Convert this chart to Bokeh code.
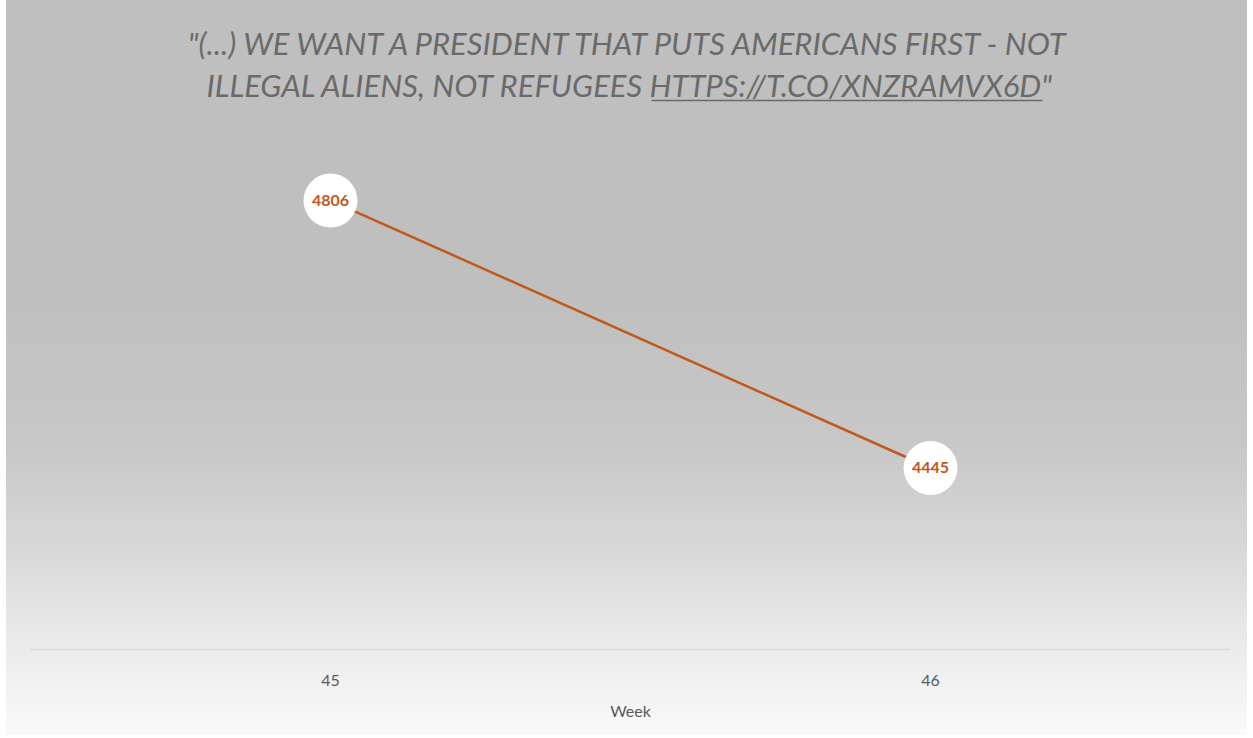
from bokeh.plotting import figure
from bokeh.models import Range1d, FixedTicker, Label
from bokeh.embed import file_html
from bokeh.resources import INLINE
from bokeh.core.properties import value

# ---- data ----
weeks = [45, 46]
counts = [4806, 4445]
tick_labels = ["45", "46"]
x_label = "Week"
title_line1 = '"(...) WE WANT A PRESIDENT THAT PUTS AMERICANS FIRST - NOT'
title_line2 = 'ILLEGAL ALIENS, NOT REFUGEES HTTPS://T.CO/XNZRAMVX6D"'

ACCENT = "#C0591C"
W, H = 1241, 735
LEFT, RIGHT, BOTTOM = 24, 17, 86
X0, X1 = 44.5, 46.5
Y0, Y1 = 4200, 5076

p = figure(width=W, height=H, output_backend="svg", toolbar_location=None,
           x_range=Range1d(X0, X1), y_range=Range1d(Y0, Y1),
           min_border_left=LEFT, min_border_right=RIGHT,
           min_border_top=0, min_border_bottom=BOTTOM,
           y_axis_location=None, tools="")
p.styles = {"margin-left": "6px",
            "background": ("linear-gradient(to bottom, #bfbfbf 0%, #bfbfbf 40%, "
                           "#c8c8c8 61%, #d8d8d8 75%, #e6e6e6 84%, #fafafa 100%)")}
p.background_fill_alpha = 0
p.border_fill_alpha = 0
p.outline_line_color = None
p.xgrid.visible = False
p.ygrid.visible = False

ax = p.xaxis[0]
ax.ticker = FixedTicker(ticks=weeks)
ax.major_label_overrides = {w: t for w, t in zip(weeks, tick_labels)}
ax.major_tick_line_color = None
ax.minor_tick_line_color = None
ax.axis_line_color = "#d9d9d9"
ax.axis_line_width = 1.5
ax.major_label_text_font = "Lato"
ax.major_label_text_font_size = "16px"
ax.major_label_text_color = "#595959"
ax.major_label_standoff = 19
ax.axis_label = x_label
ax.axis_label_text_font = "Lato"
ax.axis_label_text_font_style = "normal"
ax.axis_label_text_font_size = "16px"
ax.axis_label_text_color = "#595959"
ax.axis_label_standoff = 12

p.line(weeks, counts, line_color=ACCENT, line_width=2.5)
p.scatter(weeks, counts, size=54, fill_color="white", line_color=None)
p.text(weeks, counts, text=[str(c) for c in counts], text_align="center",
       text_baseline="middle", text_font=value("Lato"), text_font_style="bold",
       text_font_size="16px", text_color=ACCENT)

# helpers for converting page pixel positions (decoration only) to data space
frame_w = W - LEFT - RIGHT
frame_h = H - BOTTOM
def dx(px):
    return X0 + (px - 6 - LEFT) / frame_w * (X1 - X0)
def dy(py):
    return Y0 + (frame_h - py) / frame_h * (Y1 - Y0)

for txt, py in [(title_line1, 42), (title_line2, 84)]:
    p.add_layout(Label(x=dx(630), y=dy(py), text=txt, text_align="center",
                       text_baseline="middle", text_font="Lato",
                       text_font_style="italic", text_font_size="31px",
                       text_color="#6a6a6a"))
p.segment(x0=[dx(651)], y0=[dy(100)], x1=[dx(1042)], y1=[dy(100)],
          line_color="#6a6a6a", line_width=1.4)

open("out.html", "w").write(file_html(p, INLINE))
